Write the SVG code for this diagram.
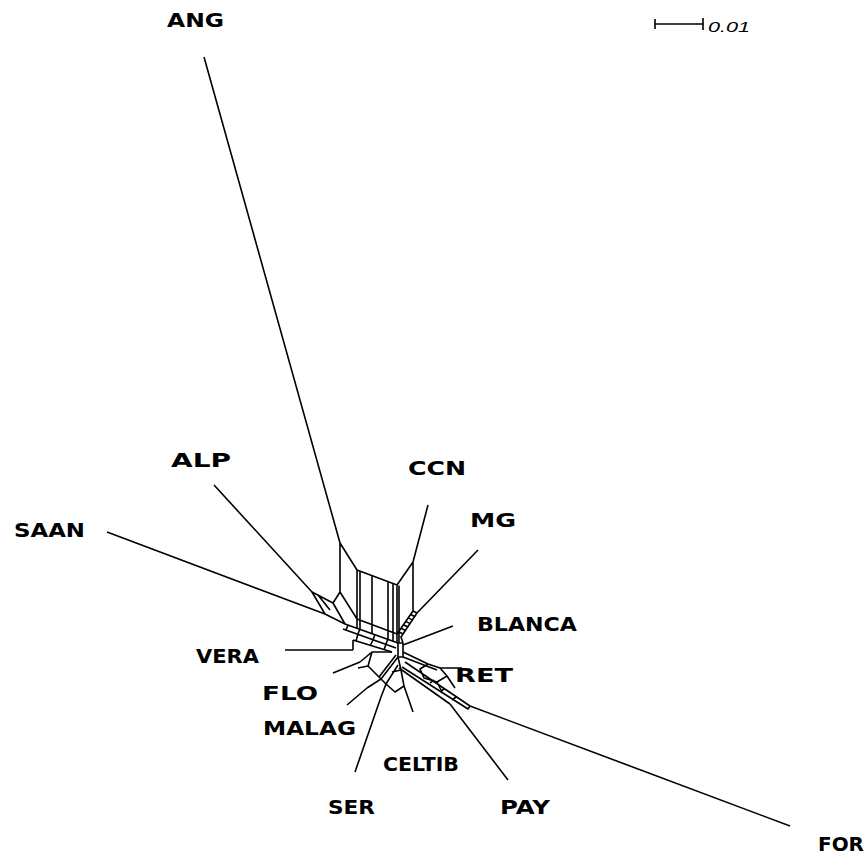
<svg xmlns="http://www.w3.org/2000/svg" width="865" height="855" viewBox="0 0 865 855">
<style>
.lbl{font-family:"DejaVu Sans","Verdana",sans-serif;font-weight:bold;font-size:20px;fill:#000}
.e{fill:none;stroke:#000;stroke-width:1.6;stroke-linejoin:round}
.sc{font-family:"Liberation Sans",Arial,sans-serif;font-style:italic;font-size:14px;fill:#000}
</style>
<rect width="865" height="855" fill="#fff"/>
<g id="connectors" class="e">
<!-- pendant edges -->
<path d="M204,57L340,543 M428,505L413,562 M478,550L417,613 M214,485L312,592 M107,532L325,614 M453,626L403,645 M285,650L353,650 M462,668L440,668 M333,673L360,662 M347,705L367,688 M355,772L381,697 M413,712L404,686 M508,780L450,704 M790,826L470,706"/>
<!-- ANG band -->
<path d="M340,543L357,570L397,585L413,562 M340,592L357,619L397,634L413,611 M340,543V592 M357,570V628 M360,571V629 M372,576V634 M388,582V639 M393,583.5V641 M397,585V643 M399,585.6V643 M413,562V611"/>
<!-- MG ladder -->
<path d="M413,611L417,613L401,637L403,643 M410.6,614.5L414.6,616.5 M408.2,617.9L412.2,619.9 M405.8,621.4L409.8,623.4 M403.4,624.8L407.4,626.8 M401,628.3L405,630.3 M398.6,631.7L402.6,633.7"/>
<!-- ALP/SAAN kite -->
<path d="M312,592L333,603L345,624L325,614Z M333,603L340,592 M318,595L330,610"/>
<!-- lower-left grid -->
<path d="M345,624L398,643 M343,629L396,648 M353,640L392,652 M348,625L346,630 M360,628.5L358,634L356,641 M375,634L373,640L370,646 M388,639L386,644L384,650 M353,640V650"/>
<!-- center box -->
<path d="M398,643V657 M403,643V657 M398,643H403 M398,657H403"/>
<!-- lower right -->
<path d="M403,652L428,664 M403,657L437,670 M428,664L440,668L447,676L437,682L424,678L420,669Z M405,662L470,706 M402,667L468,709L470,706 M399,668L450,704 M430,683L434,680 M440,692L444,689 M452,700L456,697 M437,682L441,690 M447,676L455,688"/>
<!-- lower left centre -->
<path d="M398,657L381,679 M396,655L379,677 M360,662L372,652L392,652 M372,652L368,666L381,679 M367,688L381,679 M381,697L386,684L381,679 M386,684L398,665 M404,686L401,670L398,657 M386,684L395,692L404,686 M392,672L401,670 M368,666L358,668"/>
<!-- scale bar -->
<path d="M655,24H703 M655,19V29 M703,18V30"/>
</g>
<g id="ANG"><text class="lbl" x="167" y="27" textLength="57" lengthAdjust="spacingAndGlyphs">ANG</text></g>
<g id="ALP"><text class="lbl" x="171" y="467" textLength="60" lengthAdjust="spacingAndGlyphs">ALP</text></g>
<g id="CCN"><text class="lbl" x="408" y="475" textLength="58" lengthAdjust="spacingAndGlyphs">CCN</text></g>
<g id="MG"><text class="lbl" x="470" y="527" textLength="46" lengthAdjust="spacingAndGlyphs">MG</text></g>
<g id="SAAN"><text class="lbl" x="14" y="537" textLength="71" lengthAdjust="spacingAndGlyphs">SAAN</text></g>
<g id="BLANCA"><text class="lbl" x="477" y="631" textLength="100" lengthAdjust="spacingAndGlyphs">BLANCA</text></g>
<g id="VERA"><text class="lbl" x="196" y="663" textLength="63" lengthAdjust="spacingAndGlyphs">VERA</text></g>
<g id="RET"><text class="lbl" x="455" y="682" textLength="58" lengthAdjust="spacingAndGlyphs">RET</text></g>
<g id="FLO"><text class="lbl" x="262" y="700" textLength="56" lengthAdjust="spacingAndGlyphs">FLO</text></g>
<g id="MALAG"><text class="lbl" x="263" y="735" textLength="93" lengthAdjust="spacingAndGlyphs">MALAG</text></g>
<g id="CELTIB"><text class="lbl" x="383" y="771" textLength="76" lengthAdjust="spacingAndGlyphs">CELTIB</text></g>
<g id="SER"><text class="lbl" x="328" y="814" textLength="47" lengthAdjust="spacingAndGlyphs">SER</text></g>
<g id="PAY"><text class="lbl" x="500" y="814" textLength="50" lengthAdjust="spacingAndGlyphs">PAY</text></g>
<g id="FOR"><text class="lbl" x="818" y="851" textLength="46" lengthAdjust="spacingAndGlyphs">FOR</text></g>
<g id="scale"><text class="sc" x="708" y="32" textLength="42" lengthAdjust="spacingAndGlyphs">0.01</text></g>
</svg>
